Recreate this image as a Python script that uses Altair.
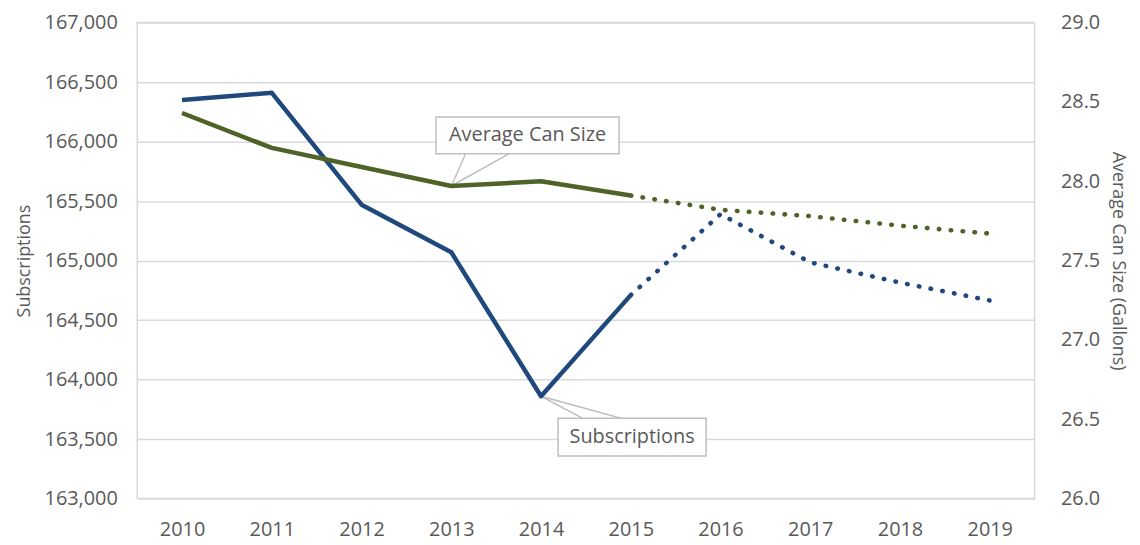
import altair as alt
import pandas as pd

years = [2010, 2011, 2012, 2013, 2014, 2015, 2016, 2017, 2018, 2019]
subscriptions = [166350, 166410, 165470, 165070, 163860, 164710, 165390, 164985, 164815, 164665]
can_size = [28.43, 28.21, 28.09, 27.97, 28.00, 27.91, 27.82, 27.78, 27.72, 27.67]
last_actual = 2015

left_ticks = list(range(163000, 167001, 500))
right_ticks = [26.0, 26.5, 27.0, 27.5, 28.0, 28.5, 29.0]

# callout annotations (data units): label, tip, box corners, wedge base x's
sub_callout = {"label": "Subscriptions", "tx": 2014, "ty": 163860,
               "bx1": 2014.19, "bx2": 2015.84, "by1": 163676, "by2": 163359,
               "wx1": 2014.46, "wx2": 2014.89}
size_callout = {"label": "Average Can Size", "tx": 2013, "ty": 27.97,
                "bx1": 2012.83, "bx2": 2014.87, "by1": 28.405, "by2": 28.173,
                "wx1": 2013.16, "wx2": 2013.64}

BLUE = "#1F497D"
GREEN = "#4F6228"
GREY_TXT = "#595959"
GRID = "#D9D9D9"
BOX = "#BFBFBF"

df = pd.DataFrame({"year": years, "value_l": subscriptions, "value_r": can_size})
solid = df[df.year <= last_actual]
dotted = df[df.year >= last_actual]

x_scale = alt.Scale(domain=[2009.5, 2019.5], nice=False, zero=False)
x_axis = alt.Axis(values=years, labelExpr="toString(datum.value)", title=None, grid=False,
                  ticks=False, domain=False, labelPadding=21, labelFontSize=20)

left_scale = alt.Scale(domain=[163000, 167000], zero=False, nice=False)
left_axis = alt.Axis(title="Subscriptions", values=left_ticks,
                     labelExpr="format(datum.value, ',')", orient="left",
                     grid=True, labelPadding=20, titlePadding=11)
right_scale = alt.Scale(domain=[26.0, 29.0], zero=False, nice=False)
right_axis = alt.Axis(title="Average Can Size (Gallons)", values=right_ticks,
                      labelExpr="format(datum.value, '.1f')",
                      orient="right", grid=False, labelPadding=26, titlePadding=9)


def X(field):
    return alt.X(field, type="quantitative", scale=x_scale, axis=x_axis)


def Y(field, scale, axis):
    return alt.Y(field, type="quantitative", scale=scale, axis=axis)


def series_layers(field, color, scale, axis):
    s = alt.Chart(solid).mark_line(color=color, strokeWidth=4.5, strokeJoin="round").encode(
        x=X("year"), y=Y(field, scale, axis))
    d = alt.Chart(dotted).mark_line(color=color, strokeWidth=4.6, strokeCap="round",
                                    strokeDash=[0.5, 11.5]).encode(
        x=X("year"), y=Y(field, scale, axis))
    return s, d


def callout_layers(c, scale, axis, edge):
    # edge: which box edge the pointer wedge meets ("by1" top or "by2" bottom)
    cdf = pd.DataFrame([c])
    box = alt.Chart(cdf).mark_rect(fill="white", stroke=BOX, strokeWidth=1.5).encode(
        x=X("bx1"), x2="bx2", y=Y("by1", scale, axis), y2="by2")
    r1 = alt.Chart(cdf).mark_rule(color=BOX, strokeWidth=1.5).encode(
        x=X("tx"), x2="wx1", y=Y("ty", scale, axis), y2=edge)
    r2 = alt.Chart(cdf).mark_rule(color=BOX, strokeWidth=1.5).encode(
        x=X("tx"), x2="wx2", y=Y("ty", scale, axis), y2=edge)
    tdf = cdf.assign(cx=(cdf.bx1 + cdf.bx2) / 2, cy=(cdf.by1 + cdf.by2) / 2)
    txt = alt.Chart(tdf).mark_text(font="Open Sans", fontSize=20, color=GREY_TXT,
                                   align="center", baseline="middle").encode(
        x=X("cx"), y=Y("cy", scale, axis), text="label:N")
    return r1, r2, box, txt


b_solid, b_dot = series_layers("value_l", BLUE, left_scale, left_axis)
g_solid, g_dot = series_layers("value_r", GREEN, right_scale, right_axis)

blue_group = alt.layer(*callout_layers(sub_callout, left_scale, left_axis, "by1"), b_solid, b_dot)
green_group = alt.layer(*callout_layers(size_callout, right_scale, right_axis, "by2"), g_solid, g_dot)

chart = alt.layer(blue_group, green_group).resolve_scale(y="independent").properties(
    width=903, height=479,
    autosize=alt.AutoSizeParams(type="none"),
    padding={"left": 130, "top": 13, "right": 98, "bottom": 44},
).configure_view(stroke=GRID, strokeWidth=1.5).configure_axis(
    labelFont="Open Sans", labelFontSize=20, labelColor=GREY_TXT,
    titleFont="Open Sans", titleFontSize=18, titleFontWeight="normal", titleColor=GREY_TXT,
    gridColor=GRID, gridWidth=1.5, ticks=False, domain=False,
)

chart.save("out.html", embed_options={"renderer": "svg", "actions": False})
